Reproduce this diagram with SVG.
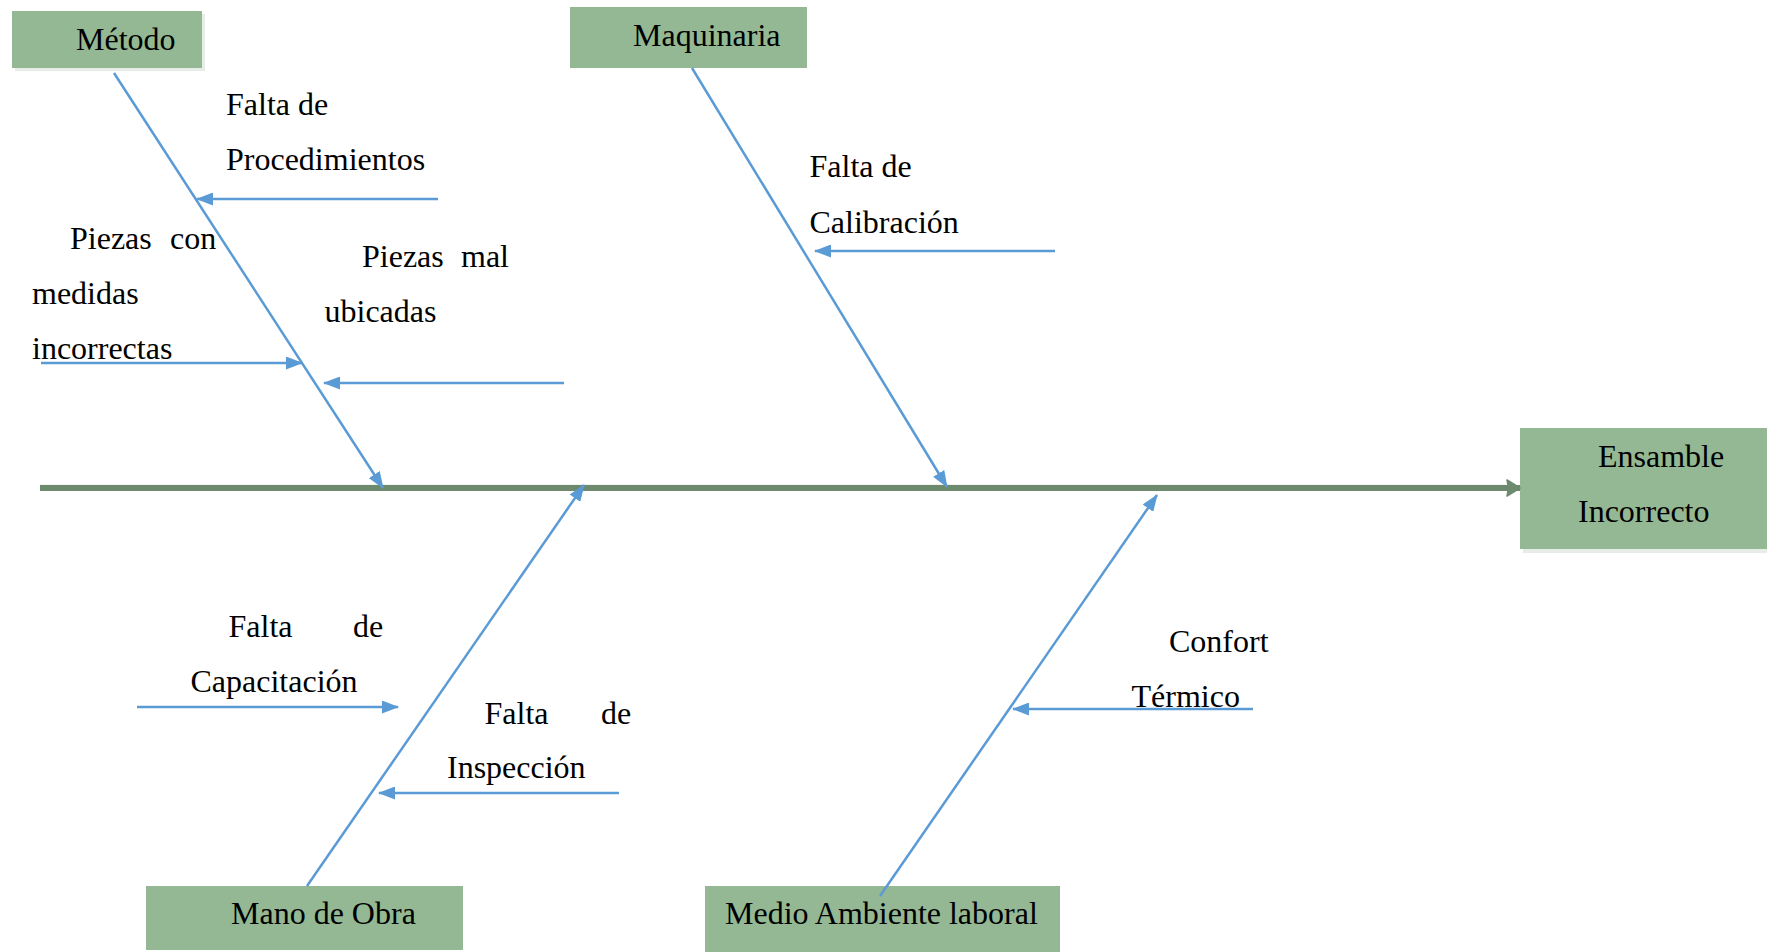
<svg xmlns="http://www.w3.org/2000/svg" width="1767" height="952" viewBox="0 0 1767 952">
  <defs>
    <style>
      .box { fill: #94b894; }
      .shadow { fill: #e6ede6; }
      .lbl { font-family: "Liberation Serif", "Times New Roman", serif; font-size: 32px; fill: #000; }
      .bone { stroke: #5b9bd5; stroke-width: 2.5; fill: none; marker-end: url(#arrowBlue); }
      .spine { stroke: #6e8a6e; stroke-width: 6; fill: none; marker-end: url(#arrowGreen); }
    </style>
    <marker id="arrowBlue" markerUnits="userSpaceOnUse" viewBox="0 0 17 13" markerWidth="17" markerHeight="13" refX="16" refY="6.5" orient="auto">
      <path d="M0,0 L17,6.5 L0,13 z" fill="#5b9bd5"/>
    </marker>
    <marker id="arrowGreen" markerUnits="userSpaceOnUse" viewBox="0 0 15 18" markerWidth="15" markerHeight="18" refX="14" refY="9" orient="auto">
      <path d="M1,1 L14,9 L1,17 Q3,9 1,1 z" fill="#6e8a6e" stroke="#6e8a6e" stroke-width="1.5" stroke-linejoin="round"/>
    </marker>
  </defs>
  <rect width="1767" height="952" fill="#ffffff"/>

  <!-- category and effect boxes -->
  <g id="metodo">
    <rect class="shadow" x="15" y="14" width="190" height="57"/>
    <rect class="box" x="12" y="11" width="190" height="57"/>
    <text class="lbl" x="76" y="50">Método</text>
  </g>
  <g id="maquinaria">
    <rect class="box" x="570" y="7" width="237" height="61"/>
    <text class="lbl" x="633" y="46">Maquinaria</text>
  </g>
  <g id="ensamble-incorrecto">
    <rect class="shadow" x="1523" y="431" width="244" height="122"/>
    <rect class="box" x="1520" y="428" width="247" height="121"/>
    <text class="lbl" x="1598" y="467">Ensamble</text>
    <text class="lbl" x="1578" y="522">Incorrecto</text>
  </g>
  <g id="mano-de-obra">
    <rect class="box" x="146" y="886" width="317" height="64"/>
    <text class="lbl" x="231" y="924">Mano de Obra</text>
  </g>
  <g id="medio-ambiente">
    <rect class="box" x="705" y="886" width="355" height="66"/>
    <text class="lbl" x="725" y="924">Medio Ambiente laboral</text>
  </g>

  <!-- connectors: spine, category bones and cause arrows -->
  <g id="connectors">
    <line x1="40" y1="485" x2="1506" y2="485" stroke="#dfe8df" stroke-width="1"/>
    <line class="spine" x1="40" y1="488" x2="1520" y2="488"/>
    <line class="bone" x1="114" y1="73" x2="383" y2="488"/>
    <line class="bone" x1="692" y1="68" x2="947" y2="487"/>
    <line class="bone" x1="307" y1="886" x2="584" y2="485"/>
    <line class="bone" x1="880" y1="896" x2="1157" y2="495"/>
    <line class="bone" x1="438" y1="199" x2="197" y2="199"/>
    <line class="bone" x1="41" y1="363" x2="302" y2="363"/>
    <line class="bone" x1="564" y1="383" x2="324" y2="383"/>
    <line class="bone" x1="1055" y1="251" x2="815" y2="251"/>
    <line class="bone" x1="137" y1="707" x2="398" y2="707"/>
    <line class="bone" x1="619" y1="793" x2="379" y2="793"/>
    <line class="bone" x1="1253" y1="709" x2="1013" y2="709"/>
  </g>

  <!-- cause labels -->
  <g id="falta-procedimientos">
    <text class="lbl" x="226" y="115">Falta de</text>
    <text class="lbl" x="226" y="170">Procedimientos</text>
  </g>
  <g id="piezas-medidas">
    <text class="lbl" x="70" y="249">Piezas</text>
    <text class="lbl" x="170" y="249">con</text>
    <text class="lbl" x="32" y="304">medidas</text>
    <text class="lbl" x="32" y="359">incorrectas</text>
  </g>
  <g id="piezas-ubicadas">
    <text class="lbl" x="362" y="267">Piezas</text>
    <text class="lbl" x="461" y="267">mal</text>
    <text class="lbl" x="324.5" y="322">ubicadas</text>
  </g>
  <g id="falta-calibracion">
    <text class="lbl" x="809.5" y="177">Falta de</text>
    <text class="lbl" x="809.5" y="233">Calibración</text>
  </g>
  <g id="falta-capacitacion">
    <text class="lbl" x="228.5" y="637">Falta</text>
    <text class="lbl" x="353" y="637">de</text>
    <text class="lbl" x="190.5" y="692">Capacitación</text>
  </g>
  <g id="falta-inspeccion">
    <text class="lbl" x="484.5" y="724">Falta</text>
    <text class="lbl" x="601" y="724">de</text>
    <text class="lbl" x="447" y="778">Inspección</text>
  </g>
  <g id="confort-termico">
    <text class="lbl" x="1169" y="652">Confort</text>
    <text class="lbl" x="1131.5" y="707">Térmico</text>
  </g>
</svg>
